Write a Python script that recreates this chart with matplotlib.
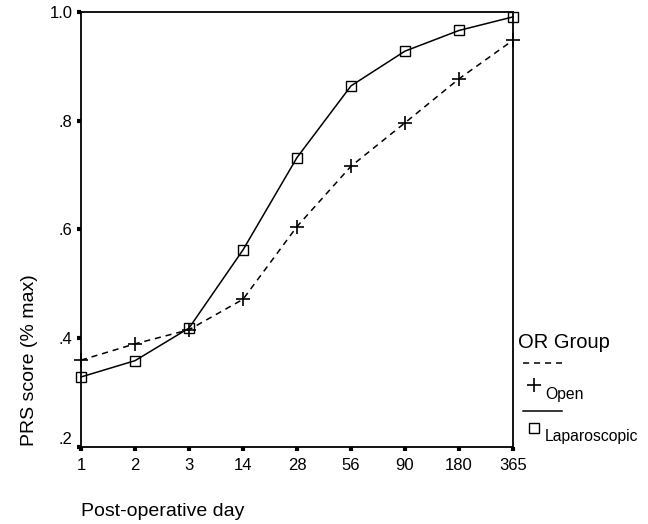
import matplotlib
matplotlib.use("Agg")
import matplotlib.pyplot as plt
from matplotlib.lines import Line2D

plt.rcParams['font.family'] = ['Liberation Sans', 'DejaVu Sans']

days = ["1", "2", "3", "14", "28", "56", "90", "180", "365"]
open_vals = [0.359, 0.389, 0.415, 0.471, 0.605, 0.716, 0.796, 0.877, 0.948]
lap_vals = [0.328, 0.358, 0.418, 0.562, 0.732, 0.864, 0.928, 0.966, 0.991]
yticks = [0.2, 0.4, 0.6, 0.8, 1.0]
ytick_labels = [".2", ".4", ".6", ".8", "1.0"]

fig = plt.figure(figsize=(6.48, 5.24), dpi=100)
ax = fig.add_axes([81/648, 1 - 446.5/524, (513-81)/648, (446.5-12)/524])

DASH = (0, (4, 3.2))
x = list(range(len(days)))
ax.plot(x, open_vals, color='black', lw=1.1, ls=DASH,
        marker='+', ms=9.5, mew=1.2, zorder=3)
ax.plot(x, lap_vals, color='black', lw=1.1, ls='-',
        marker='s', ms=7, mfc='none', mew=1.0, zorder=3)

ax.set_xlim(0, len(days) - 1)
ax.set_ylim(0.2, 1.0)
ax.set_xticks(x)
ax.set_xticklabels(days, fontsize=12)
ax.set_yticks(yticks)
ax.set_yticklabels(ytick_labels, fontsize=12)
ax.tick_params(axis='both', direction='out', length=3, width=3)
ax.tick_params(axis='x', pad=5)
ax.tick_params(axis='y', pad=3)
ax.get_yticklabels()[0].set_verticalalignment('bottom')
for s in ax.spines.values():
    s.set_linewidth(1.3)
    s.set_clip_on(False)
for l in ax.get_lines():
    l.set_clip_on(False)

fig.text(81/648, 1 - 512/524, "Post-operative day", fontsize=14,
         ha='left', va='center')
fig.text(30/648, 1 - 446/524, "PRS score (% max)", fontsize=14,
         rotation=90, ha='center', va='bottom')

# legend
fig.text(518/648, 1 - 343/524, "OR Group", fontsize=14.5, ha='left', va='center')
fig.add_artist(Line2D([523/648, 562/648], [1 - 363/524, 1 - 363/524],
                      color='black', lw=1.1, ls=DASH))
fig.add_artist(Line2D([534/648], [1 - 385/524], color='black', marker='+',
                      ms=9.5, mew=1.2, ls='none'))
fig.text(545/648, 1 - 394/524, "Open", fontsize=11.3, ha='left', va='center')
fig.add_artist(Line2D([523/648, 562/648], [1 - 411/524, 1 - 411/524],
                      color='black', lw=1.1))
fig.add_artist(Line2D([534/648], [1 - 428/524], color='black', marker='s',
                      ms=6.5, mfc='none', mew=1.0, ls='none'))
fig.text(545/648, 1 - 437/524, "Laparoscopic", fontsize=11.3, ha='left', va='center')

fig.savefig("out.png", dpi=100, facecolor='white')
